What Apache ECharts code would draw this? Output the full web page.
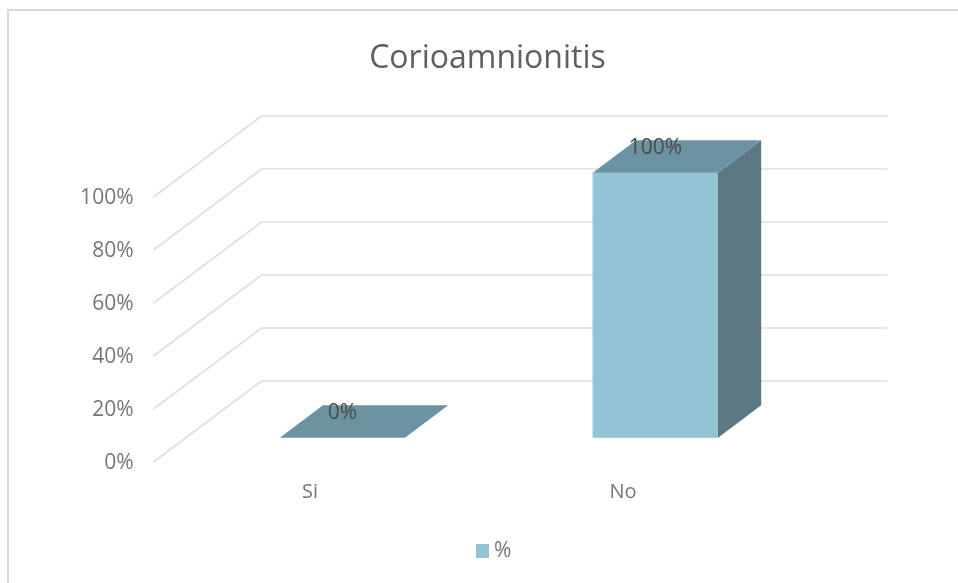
<!DOCTYPE html>
<html>
<head>
<meta charset="utf-8">
<style>html,body{margin:0;padding:0;background:#fff}#c{width:958px;height:583px}</style>
<script src="https://cdn.jsdelivr.net/npm/echarts@6/dist/echarts.min.js"></script>
</head>
<body>
<div id="c"></div>
<script>
var titleText = 'Corioamnionitis';
var categories = ['Si', 'No'];
var seriesName = '%';
var values = [0, 100];
var yTicks = [0, 20, 40, 60, 80, 100];

var FONT = '"Open Sans", sans-serif';
var depthX = 108, depthY = -81;
var barFrontDepth = 0.3, barBackDepth = 0.7, barWidthFrac = 0.4;

var chart = echarts.init(document.getElementById('c'), null, {renderer: 'canvas'});

function renderWall(params, api) {
  var cs = params.coordSys;
  var y = api.coord([0, api.value(0)])[1];
  return {
    type: 'polyline',
    shape: {points: [[cs.x, y], [cs.x + depthX, y + depthY], [cs.x + cs.width + depthX, y + depthY]]},
    style: {stroke: '#DEDEDE', lineWidth: 1.6, fill: null},
    silent: true
  };
}

function renderBar(params, api) {
  var c = api.coord([api.value(0), api.value(1)]);
  var base = api.coord([api.value(0), 0]);
  var w = api.size([1, 0])[0] * barWidthFrac;
  var fx = barFrontDepth * depthX, fy = barFrontDepth * depthY;
  var dx = (barBackDepth - barFrontDepth) * depthX, dy = (barBackDepth - barFrontDepth) * depthY;
  var x0 = c[0] - w / 2 + fx, x1 = c[0] + w / 2 + fx;
  var yt = c[1] + fy, yb = base[1] + fy;
  var kids = [];
  if (yb - yt > 0) {
    kids.push({type: 'polygon', shape: {points: [[x0, yt], [x1, yt], [x1, yb], [x0, yb]]},
      style: {fill: '#93C3D5', stroke: '#A9CFDE', lineWidth: 0.6}});
    kids.push({type: 'polygon', shape: {points: [[x1, yt], [x1 + dx, yt + dy], [x1 + dx, yb + dy], [x1, yb]]},
      style: {fill: '#5B7883'}});
  }
  kids.push({type: 'polygon', shape: {points: [[x0, yt], [x1, yt], [x1 + dx, yt + dy], [x0 + dx, yt + dy]]},
    style: {fill: '#6C93A2'}});
  kids.push({type: 'text', x: (x0 + x1) / 2, y: yt + dy * 0.75,
    style: {text: api.value(1) + '%', fill: '#4A4A4A', font: '21px ' + FONT, align: 'center', verticalAlign: 'middle'}});
  return {type: 'group', children: kids};
}

chart.setOption({
  animation: false,
  backgroundColor: '#ffffff',
  title: {
    text: titleText, left: 482.5, top: 38, textAlign: 'center',
    textStyle: {fontFamily: FONT, fontWeight: 'normal', fontSize: 32, color: '#606060'}
  },
  legend: {
    left: 471, top: 535.5, itemWidth: 13, itemHeight: 14, itemGap: 3,
    icon: 'rect', selectedMode: false, data: [seriesName],
    textStyle: {fontFamily: FONT, fontSize: 21, color: '#767676'}
  },
  grid: {left: 153.5, top: 197, width: 626, height: 265, containLabel: false},
  xAxis: {
    type: 'category', data: categories,
    axisLine: {show: false}, axisTick: {show: false}, splitLine: {show: false},
    axisLabel: {fontFamily: FONT, fontSize: 20, color: '#767676', margin: 20}
  },
  yAxis: {
    type: 'value', min: 0, max: 100, interval: 20,
    axisLine: {show: false}, axisTick: {show: false}, splitLine: {show: false},
    axisLabel: {fontFamily: FONT, fontSize: 21, color: '#767676', margin: 20, formatter: '{value}%', verticalAlign: 'top', lineHeight: 3}
  },
  graphic: {elements: [
    {type: 'polyline', silent: true, z: -1, shape: {points: [[8, 583], [8, 10], [958, 10]]},
      style: {stroke: '#D9D9D9', lineWidth: 2, fill: null}}
  ]},
  series: [
    {type: 'custom', silent: true, coordinateSystem: 'cartesian2d', renderItem: renderWall,
      data: yTicks.map(function (t) { return [t]; }), encode: {y: 0}, z: 1, tooltip: {show: false}},
    {type: 'custom', name: seriesName, coordinateSystem: 'cartesian2d', renderItem: renderBar,
      itemStyle: {color: '#93C3D5'},
      data: values.map(function (v, i) { return [i, v]; }), encode: {x: 0, y: 1}, z: 2}
  ]
});
</script>
</body>
</html>
